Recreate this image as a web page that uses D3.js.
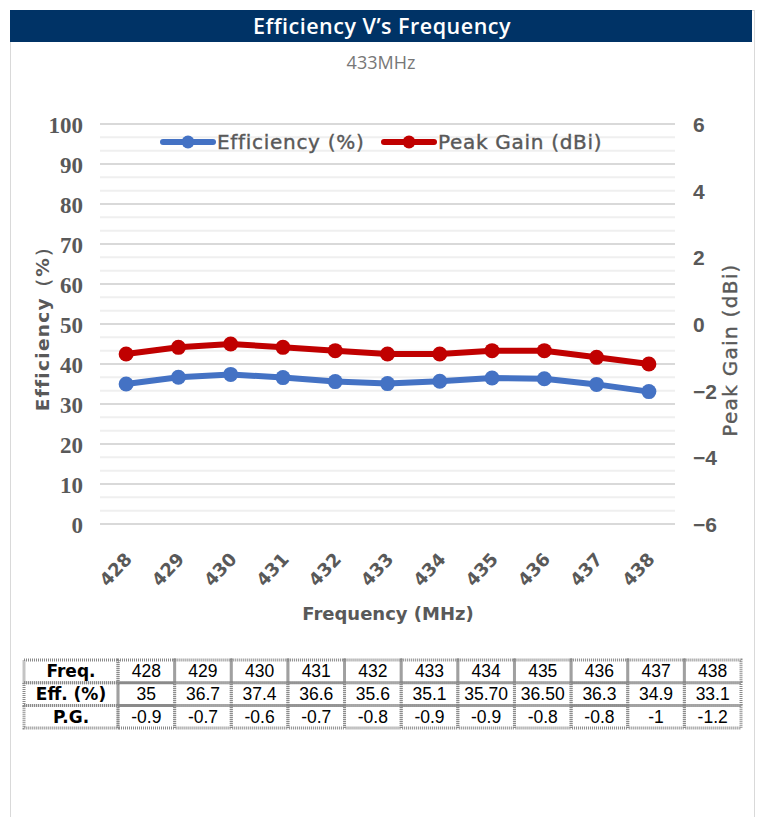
<!DOCTYPE html>
<html><head><meta charset="utf-8">
<script src="https://cdn.jsdelivr.net/npm/d3@7"></script>
<style>body{margin:0;background:#fff;} svg{display:block;}</style>
</head><body>
<svg id="c" width="764" height="817"></svg>
<script>
const freqs = ["428","429","430","431","432","433","434","435","436","437","438"];
const efficiency = [35, 36.7, 37.4, 36.6, 35.6, 35.1, 35.7, 36.5, 36.3, 34.9, 33.1];
const peakGain = [-0.9, -0.7, -0.6, -0.7, -0.8, -0.9, -0.9, -0.8, -0.8, -1, -1.2];
const effTableText = ["35","36.7","37.4","36.6","35.6","35.1","35.70","36.50","36.3","34.9","33.1"];
const pgTableText = ["-0.9","-0.7","-0.6","-0.7","-0.8","-0.9","-0.9","-0.8","-0.8","-1","-1.2"];
const leftTicks = [0,10,20,30,40,50,60,70,80,90,100];
const rightTicks = [-6,-4,-2,0,2,4,6];

const svg = d3.select("#c");
const gray = "#595959";

// card border
svg.append("rect").attr("x",10.5).attr("y",10.5).attr("width",744).attr("height",820)
  .attr("fill","none").attr("stroke","#d9d9d9").attr("stroke-width",1);
// title bar
svg.append("rect").attr("x",10).attr("y",10).attr("width",742).attr("height",32).attr("fill","#003366");
svg.append("text").attr("x",382).attr("y",34).attr("text-anchor","middle")
  .attr("font-family","Open Sans").attr("font-weight",600).attr("font-size",21.5).attr("fill","#fff")
  .attr("letter-spacing",0.5)
  .text("Efficiency V’s Frequency");
svg.append("text").attr("x",381).attr("y",69).attr("text-anchor","middle")
  .attr("font-family","Open Sans").attr("font-size",18).attr("fill","#777")
  .text("433MHz");

const L = 100, R = 675, T = 124, B = 524;
const x = d3.scaleBand().domain(freqs).range([L,R]);
const yL = d3.scaleLinear().domain([0,100]).range([B,T]);
const yR = d3.scaleLinear().domain([-6,6]).range([B,T]);

// minor gridlines (secondary minor 0.4)
const minor = d3.range(0,31).map(i => -6 + i*0.4);
svg.append("g").selectAll("line").data(minor).join("line")
  .attr("x1",L).attr("x2",R).attr("y1",d=>yR(d)).attr("y2",d=>yR(d))
  .attr("stroke","#efefef").attr("stroke-width",2);
// major gridlines
svg.append("g").selectAll("line").data(leftTicks).join("line")
  .attr("x1",L).attr("x2",R).attr("y1",d=>yL(d)).attr("y2",d=>yL(d))
  .attr("stroke","#d9d9d9").attr("stroke-width",2);

// left axis
const axL = svg.append("g").attr("transform",`translate(${L-17},0)`)
  .call(d3.axisLeft(yL).tickValues(leftTicks).tickSize(0).tickPadding(0));
axL.select(".domain").remove();
axL.selectAll("text").attr("font-family","Liberation Serif").attr("font-weight","bold")
  .attr("font-size",23).attr("fill",gray).attr("dy","0.35em");
// right axis
const axR = svg.append("g").attr("transform",`translate(${R+18},0)`)
  .call(d3.axisRight(yR).tickValues(rightTicks).tickSize(0).tickPadding(0));
axR.select(".domain").remove();
axR.selectAll("text").attr("font-family","Liberation Sans").attr("font-weight","bold")
  .attr("font-size",21).attr("fill",gray).attr("dy","0.35em");

// x axis
const axX = svg.append("g").attr("transform",`translate(0,${B})`)
  .call(d3.axisBottom(x).tickSize(0).tickPadding(0));
axX.select(".domain").remove();
axX.selectAll("text").attr("font-family","DejaVu Sans").attr("font-weight","bold")
  .attr("font-size",18).attr("fill",gray)
  .attr("text-anchor","end").attr("dy","0").attr("y",0)
  .attr("transform","translate(7,36) rotate(-47)");

// axis titles
svg.append("text").attr("transform","translate(49,324) rotate(-90)").attr("text-anchor","middle")
  .attr("font-family","DejaVu Sans").attr("font-weight","bold").attr("font-size",18.5).attr("fill",gray)
  .attr("letter-spacing",1.3)
  .text("Efficiency（%）");
svg.append("text").attr("transform","translate(737,350) rotate(-90)").attr("text-anchor","middle")
  .attr("font-family","DejaVu Sans").attr("font-weight","normal").attr("font-size",20).attr("fill",gray)
  .attr("stroke",gray).attr("stroke-width",0.4).attr("letter-spacing",1.3)
  .text("Peak Gain (dBi)");
svg.append("text").attr("x",388).attr("y",620).attr("text-anchor","middle")
  .attr("font-family","DejaVu Sans").attr("font-weight","bold").attr("font-size",18).attr("fill",gray)
  .text("Frequency (MHz)");

// series
const cx = d => x(d) + x.bandwidth()/2;
function series(vals, yS, color){
  const pts = freqs.map((f,i)=>[cx(f), yS(vals[i])]);
  svg.append("path").attr("d", d3.line()(pts)).attr("fill","none").attr("stroke",color)
    .attr("stroke-width",6).attr("stroke-linejoin","round").attr("stroke-linecap","round");
  svg.append("g").selectAll("circle").data(pts).join("circle")
    .attr("cx",d=>d[0]).attr("cy",d=>d[1]).attr("r",7.5).attr("fill",color);
}
series(peakGain, yR, "#C00000");
series(efficiency, yL, "#4472C4");

// legend
const legend = [{name:"Efficiency (%)", color:"#4472C4", x:160},{name:"Peak Gain (dBi)", color:"#C00000", x:381}];
const lg = svg.append("g");
legend.forEach(d=>{
  lg.append("line").attr("x1",d.x+3).attr("x2",d.x+53).attr("y1",142).attr("y2",142)
    .attr("stroke",d.color).attr("stroke-width",6).attr("stroke-linecap","round");
  lg.append("circle").attr("cx",d.x+28).attr("cy",142).attr("r",6.5).attr("fill",d.color);
  lg.append("text").attr("x",d.x+57).attr("y",149).attr("font-family","DejaVu Sans")
    .attr("font-size",20).attr("letter-spacing",0.7).attr("fill",gray)
    .attr("stroke",gray).attr("stroke-width",0.4).text(d.name);
});

// table
const tX0 = 24, tX1 = 118, tX2 = 741, tY = 660, rowH = 22.7;
const colW = (tX2 - tX1)/freqs.length;
const rows = [["Freq.", freqs],["Eff. (%)", effTableText],["P.G.", pgTableText]];
const tg = svg.append("g");
const bst = {stroke:"#8a8a8a", w:3};
rows.forEach((r,ri)=>{
  const y0 = tY + ri*rowH;
  tg.append("rect").attr("x",tX0).attr("y",y0).attr("width",tX1-tX0).attr("height",rowH)
    .attr("fill","none").attr("stroke",bst.stroke).attr("stroke-width",bst.w).attr("stroke-dasharray","1,1");
  tg.append("text").attr("x",(tX0+tX1)/2).attr("y",y0+rowH/2+6).attr("text-anchor","middle")
    .attr("font-family","DejaVu Sans").attr("font-weight","bold").attr("font-size",17).attr("fill","#000")
    .text(r[0]);
  r[1].forEach((v,ci)=>{
    const xc = tX1 + ci*colW;
    tg.append("rect").attr("x",xc).attr("y",y0).attr("width",colW).attr("height",rowH)
      .attr("fill","none").attr("stroke",bst.stroke).attr("stroke-width",bst.w).attr("stroke-dasharray","1,1");
    tg.append("text").attr("x",xc+colW/2).attr("y",y0+rowH/2+6).attr("text-anchor","middle")
      .attr("font-family","Liberation Sans").attr("font-size",17.5).attr("fill","#000").text(v);
  });
});
</script>
</body></html>
